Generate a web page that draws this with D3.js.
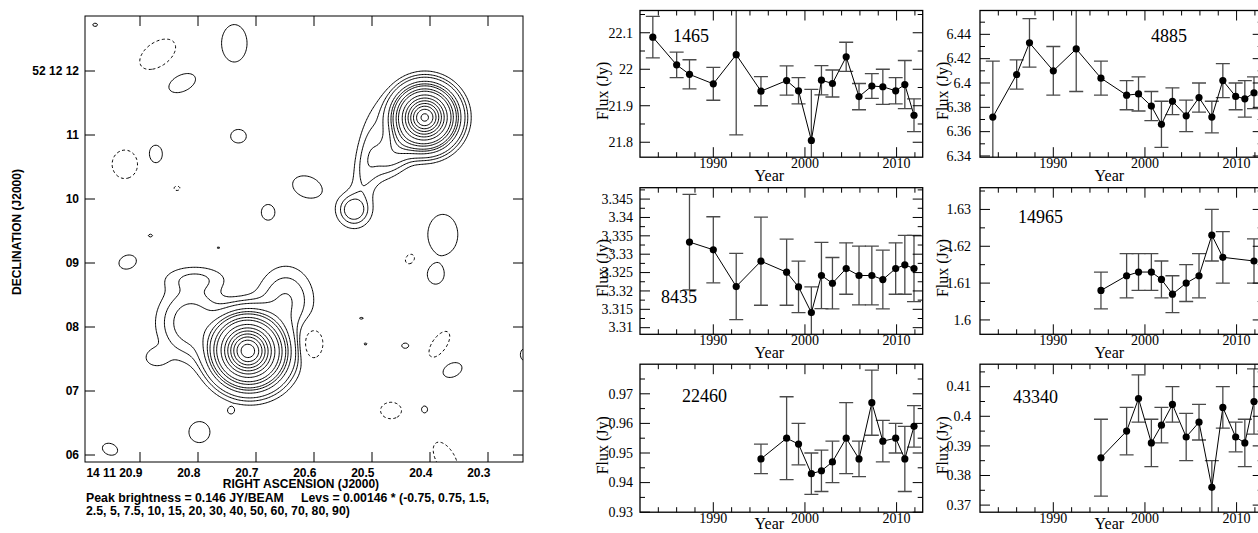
<!DOCTYPE html>
<html><head><meta charset="utf-8">
<script src="https://cdn.jsdelivr.net/npm/d3@7"></script>
<style>
body{margin:0;background:#fff;}
svg{display:block;background:#fff;}
</style></head><body>
<svg id="chart" width="1258" height="533"></svg>
<script>
// ================= MAP DATA =================
const raTicks = [20.9, 20.8, 20.7, 20.6, 20.5, 20.4, 20.3];
const raTickLabels = ["14 11 20.9", "20.8", "20.7", "20.6", "20.5", "20.4", "20.3"];
const decTicks = [12, 11, 10, 9, 8, 7, 6];
const decTickLabels = ["52 12 12", "11", "10", "09", "08", "07", "06"];
const peakJy = 0.146;
const levelFactors = [-0.75, 0.75, 1.5, 2.5, 5, 7.5, 10, 15, 20, 30, 40, 50, 60, 70, 80, 90];
// emission components: amplitude in percent of peak, widths (sigma) in arcsec, PA in degrees
const srcRA  = [20.7167, 20.6966, 20.8138, 20.8052, 20.6500, 20.8741,
                20.4101, 20.4552, 20.5069, 20.5328, 20.5328,
                20.7387, 20.8286, 20.7315, 20.8744, 20.6131, 20.6804, 20.8833, 20.7661, 20.9226, 20.3792,
                20.3917, 20.3625, 20.4107, 20.4440, 20.5125, 20.5196, 20.7988, 20.9530, 20.7446, 20.9786, 20.2393,
                20.8708, 20.9274, 20.8375, 20.4357, 20.6054, 20.3851, 20.4685, 20.3744];
const srcDec = [7.6446, 7.5469, 8.0781, 8.7656, 8.4219, 7.5313,
                11.2875, 10.8438, 10.7344, 9.8438, 9.8438,
                12.4446, 11.8232, 10.9929, 10.7143, 10.2000, 9.8036, 9.4393, 9.2518, 9.0268, 9.4554,
                8.8232, 7.3393, 6.7232, 7.7196, 7.7464, 8.1482, 6.3697, 6.1018, 6.7018, 12.7340, 7.5804,
                12.2732, 10.5536, 10.1786, 9.0750, 7.7625, 7.7411, 6.7071, 5.9500];
const srcAmp = [90, 9, 3.6, 1.4, 2.6, 1.2,
                92, 4.5, 1.9, 3.0, 1.5,
                1.5, 1.5, 1.4, 1.4, 1.5, 1.4, 1.0, 0.95, 1.4, 1.5,
                1.4, 1.4, 1.1, 1.1, 0.95, 0.95, 1.5, 1.4, 1.1, 1.0, 1.4,
                -1.5, -1.5, -1.1, -1.3, -1.8, -1.5, -1.5, -1.5];
const srcMaj = [0.27, 0.28, 0.313, 0.344, 0.28, 0.14,
                0.235, 0.34, 0.47, 0.11, 0.22,
                0.17, 0.19, 0.11, 0.095, 0.20, 0.095, 0.045, 0.035, 0.125, 0.20,
                0.11, 0.14, 0.055, 0.063, 0.035, 0.045, 0.14, 0.11, 0.05, 0.05, 0.05,
                0.27, 0.17, 0.055, 0.08, 0.14, 0.20, 0.14, 0.125];
const srcMin = [0.27, 0.28, 0.344, 0.14, 0.344, 0.11,
                0.235, 0.17, 0.135, 0.11, 0.22,
                0.25, 0.11, 0.095, 0.125, 0.14, 0.11, 0.03, 0.02, 0.095, 0.27,
                0.125, 0.095, 0.063, 0.047, 0.028, 0.025, 0.14, 0.08, 0.05, 0.035, 0.08,
                0.16, 0.19, 0.04, 0.063, 0.20, 0.095, 0.11, 0.25];
const srcPA  = [0, 0, 0, 0, 0, 0,
                0, -50, -80, 0, 0,
                0, -25, 0, 0, 20, 0, 0, 0, -20, 0,
                0, -25, 0, 0, 0, 0, 0, 20, 0, 0, 0,
                -35, 0, 0, -50, 0, -55, 0, -30];

// ================= LIGHT-CURVE DATA =================
const yearDomain = [1982, 2012.85];
const yearMajor = [1990, 2000, 2010];

const p1Year = [1983.4, 1986.0, 1987.4, 1990.0, 1992.5, 1995.2, 1998.0, 1999.3, 2000.7, 2001.8, 2003.0, 2004.5, 2005.9, 2007.3, 2008.5, 2009.9, 2010.9, 2011.9];
const p1Flux = [22.088, 22.012, 21.986, 21.960, 22.040, 21.940, 21.969, 21.941, 21.805, 21.970, 21.961, 22.034, 21.925, 21.954, 21.952, 21.941, 21.958, 21.874];
const p1Err  = [0.057, 0.035, 0.040, 0.045, 0.220, 0.040, 0.040, 0.036, 0.140, 0.040, 0.037, 0.040, 0.036, 0.034, 0.048, 0.036, 0.066, 0.045];
const p1Ticks = [21.8, 21.9, 22.0, 22.1];
const p1Labels = ["21.8", "21.9", "22", "22.1"];
const p1Dom = [21.759, 22.161];

const p2Year = [1983.4, 1986.0, 1987.4, 1990.0, 1992.5, 1995.2, 1998.0, 1999.3, 2000.7, 2001.8, 2003.0, 2004.5, 2005.9, 2007.3, 2008.5, 2009.9, 2010.9, 2011.9];
const p2Flux = [6.372, 6.407, 6.433, 6.410, 6.428, 6.404, 6.390, 6.391, 6.381, 6.366, 6.385, 6.373, 6.388, 6.372, 6.402, 6.389, 6.387, 6.392];
const p2Err  = [0.046, 0.012, 0.020, 0.020, 0.035, 0.014, 0.012, 0.014, 0.012, 0.019, 0.011, 0.013, 0.012, 0.013, 0.014, 0.011, 0.015, 0.013];
const p2Ticks = [6.34, 6.36, 6.38, 6.40, 6.42, 6.44];
const p2Labels = ["6.34", "6.36", "6.38", "6.4", "6.42", "6.44"];
const p2Dom = [6.339, 6.4596];

const p3Year = [1987.4, 1990.0, 1992.5, 1995.2, 1998.0, 1999.3, 2000.7, 2001.8, 2003.0, 2004.5, 2005.9, 2007.3, 2008.5, 2009.9, 2010.9, 2011.9];
const p3Flux = [3.3333, 3.3312, 3.3212, 3.3281, 3.3251, 3.3211, 3.3141, 3.3242, 3.3221, 3.3261, 3.3242, 3.3242, 3.3231, 3.3261, 3.3271, 3.3261];
const p3Err  = [0.013, 0.009, 0.009, 0.012, 0.009, 0.007, 0.007, 0.009, 0.007, 0.007, 0.008, 0.008, 0.008, 0.007, 0.008, 0.009];
const p3Ticks = [3.31, 3.315, 3.32, 3.325, 3.33, 3.335, 3.34, 3.345];
const p3Labels = ["3.31", "3.315", "3.32", "3.325", "3.33", "3.335", "3.34", "3.345"];
const p3Dom = [3.3082, 3.3481];

const p4Year = [1995.2, 1998.0, 1999.3, 2000.7, 2001.8, 2003.0, 2004.5, 2005.9, 2007.3, 2008.5, 2011.9];
const p4Flux = [1.608, 1.612, 1.613, 1.613, 1.611, 1.607, 1.610, 1.612, 1.623, 1.617, 1.616];
const p4Err  = [0.005, 0.006, 0.005, 0.005, 0.005, 0.005, 0.005, 0.006, 0.007, 0.007, 0.006];
const p4Ticks = [1.60, 1.61, 1.62, 1.63];
const p4Labels = ["1.6", "1.61", "1.62", "1.63"];
const p4Dom = [1.5961, 1.6359];

const p5Year = [1995.2, 1998.0, 1999.3, 2000.7, 2001.8, 2003.0, 2004.5, 2005.9, 2007.3, 2008.5, 2009.9, 2010.9, 2011.9];
const p5Flux = [0.948, 0.955, 0.953, 0.943, 0.944, 0.947, 0.955, 0.948, 0.967, 0.954, 0.955, 0.948, 0.959];
const p5Err  = [0.005, 0.014, 0.007, 0.007, 0.007, 0.007, 0.012, 0.006, 0.011, 0.007, 0.005, 0.011, 0.007];
const p5Ticks = [0.93, 0.94, 0.95, 0.96, 0.97];
const p5Labels = ["0.93", "0.94", "0.95", "0.96", "0.97"];
const p5Dom = [0.93, 0.98];

const p6Year = [1995.2, 1998.0, 1999.3, 2000.7, 2001.8, 2003.0, 2004.5, 2005.9, 2007.3, 2008.5, 2009.9, 2010.9, 2011.9];
const p6Flux = [0.386, 0.395, 0.406, 0.391, 0.397, 0.404, 0.393, 0.398, 0.376, 0.403, 0.393, 0.391, 0.405];
const p6Err  = [0.013, 0.008, 0.008, 0.008, 0.006, 0.006, 0.008, 0.006, 0.009, 0.007, 0.005, 0.008, 0.011];
const p6Ticks = [0.37, 0.38, 0.39, 0.40, 0.41];
const p6Labels = ["0.37", "0.38", "0.39", "0.4", "0.41"];
const p6Dom = [0.3676, 0.4176];

const panelNames = ["1465", "4885", "8435", "14965", "22460", "43340"];

// ================= DRAWING =================
const svg = d3.select("#chart");
const defs = svg.append("defs");
const sans = "'Liberation Sans', Arial, Helvetica, sans-serif";
const serif = "'Liberation Serif', 'Times New Roman', Times, serif";

// ---------- Contour map ----------
const mapL = 85, mapR = 523, mapT = 16, mapB = 462;
const xMap = d3.scaleLinear().domain([20.9, 20.3]).range([140, 488]);
const yMap = d3.scaleLinear().domain([12, 6]).range([71, 455]);

defs.append("clipPath").attr("id", "mapClip").append("rect")
  .attr("x", mapL).attr("y", mapT).attr("width", mapR - mapL).attr("height", mapB - mapT);

const cosd = Math.cos(52.2 * Math.PI / 180);
const pxArcX = Math.abs(xMap(0) - xMap(1 / (15 * cosd)));
const pxArcY = Math.abs(yMap(0) - yMap(1));
const pxArc = (pxArcX + pxArcY) / 2;

const comps = srcRA.map((ra, i) => {
  const t = srcPA[i] * Math.PI / 180;
  return { x: xMap(ra), y: yMap(srcDec[i]), a: srcAmp[i],
           sa: srcMaj[i] * pxArc, sb: srcMin[i] * pxArc, c: Math.cos(t), s: Math.sin(t) };
});

const step = 1.5, pad = 12;
const gx0 = mapL - pad, gy0 = mapT - pad;
const nx = Math.ceil((mapR - mapL + 2 * pad) / step) + 1;
const ny = Math.ceil((mapB - mapT + 2 * pad) / step) + 1;
const values = new Float64Array(nx * ny);
for (let j = 0; j < ny; j++) {
  const py = gy0 + j * step;
  for (let i = 0; i < nx; i++) {
    const px = gx0 + i * step;
    let v = 0;
    for (const c of comps) {
      const dx = px - c.x, dy = py - c.y;
      const lim = 6 * Math.max(c.sa, c.sb);
      if (Math.abs(dx) > lim || Math.abs(dy) > lim) continue;
      const u = dx * c.c + dy * c.s, w = -dx * c.s + dy * c.c;
      v += c.a * Math.exp(-0.5 * (u * u / (c.sa * c.sa) + w * w / (c.sb * c.sb)));
    }
    values[j * nx + i] = v * peakJy / 100;
  }
}
const levels = levelFactors.map(f => f * peakJy / 100);
const contours = d3.contours().size([nx, ny]).thresholds(levels)(values);
const cpath = d3.geoPath(d3.geoIdentity().scale(step).translate([gx0, gy0]));

const gMap = svg.append("g");
gMap.append("g").attr("clip-path", "url(#mapClip)")
  .selectAll("path").data(contours).join("path")
  .attr("d", cpath)
  .attr("fill", "none")
  .attr("stroke", "#000")
  .attr("stroke-width", 1)
  .attr("stroke-linejoin", "round")
  .attr("stroke-dasharray", d => d.value < 0 ? "3,2.5" : null);

gMap.append("rect").attr("x", mapL).attr("y", mapT)
  .attr("width", mapR - mapL).attr("height", mapB - mapT)
  .attr("fill", "none").attr("stroke", "#000").attr("stroke-width", 1);

const tickLen = 10;
raTicks.forEach((t, i) => {
  const x = xMap(t);
  gMap.append("line").attr("x1", x).attr("x2", x).attr("y1", mapB).attr("y2", mapB - tickLen).attr("stroke", "#000");
  gMap.append("line").attr("x1", x).attr("x2", x).attr("y1", mapT).attr("y2", mapT + tickLen).attr("stroke", "#000");
  gMap.append("text").attr("x", x + 2.5).attr("y", mapB + 14.5)
    .attr("text-anchor", "end").attr("font-family", sans).attr("font-weight", "bold")
    .attr("font-size", 12).text(raTickLabels[i]);
});
decTicks.forEach((t, i) => {
  const y = yMap(t);
  gMap.append("line").attr("x1", mapL).attr("x2", mapL + tickLen).attr("y1", y).attr("y2", y).attr("stroke", "#000");
  gMap.append("line").attr("x1", mapR).attr("x2", mapR - tickLen).attr("y1", y).attr("y2", y).attr("stroke", "#000");
  gMap.append("text").attr("x", mapL - 6).attr("y", y).attr("dy", "0.36em")
    .attr("text-anchor", "end").attr("font-family", sans).attr("font-weight", "bold")
    .attr("font-size", 12).text(decTickLabels[i]);
});
gMap.append("text").attr("x", 301).attr("y", 488).attr("text-anchor", "middle")
  .attr("font-family", sans).attr("font-weight", "bold").attr("font-size", 12)
  .text("RIGHT ASCENSION (J2000)");
gMap.append("text").attr("transform", "translate(21,232) rotate(-90)").attr("text-anchor", "middle")
  .attr("font-family", sans).attr("font-weight", "bold").attr("font-size", 12)
  .text("DECLINATION (J2000)");
const levParts = levelFactors.map(f => String(f));
const firstN = 3;
gMap.append("text").attr("x", 86).attr("y", 501.5)
  .attr("font-family", sans).attr("font-weight", "bold").attr("font-size", 12.3)
  .style("white-space", "pre")
  .text("Peak brightness = " + peakJy + " JY/BEAM     Levs = " + (peakJy / 100).toFixed(5) +
        " * (" + levParts.slice(0, firstN).join(", ") + ",");
gMap.append("text").attr("x", 86).attr("y", 515)
  .attr("font-family", sans).attr("font-weight", "bold").attr("font-size", 12.3)
  .text(levParts.slice(firstN).join(", ") + ")");

// ---------- Light-curve panels ----------
const panels = [
  { year: p1Year, flux: p1Flux, err: p1Err, ticks: p1Ticks, labels: p1Labels, dom: p1Dom, col: 0, row: 0, lab: [673, 41.5] },
  { year: p2Year, flux: p2Flux, err: p2Err, ticks: p2Ticks, labels: p2Labels, dom: p2Dom, col: 1, row: 0, lab: [1151, 41.5] },
  { year: p3Year, flux: p3Flux, err: p3Err, ticks: p3Ticks, labels: p3Labels, dom: p3Dom, col: 0, row: 1, lab: [661, 302.5] },
  { year: p4Year, flux: p4Flux, err: p4Err, ticks: p4Ticks, labels: p4Labels, dom: p4Dom, col: 1, row: 1, lab: [1018, 223] },
  { year: p5Year, flux: p5Flux, err: p5Err, ticks: p5Ticks, labels: p5Labels, dom: p5Dom, col: 0, row: 2, lab: [682, 402] },
  { year: p6Year, flux: p6Flux, err: p6Err, ticks: p6Ticks, labels: p6Labels, dom: p6Dom, col: 1, row: 2, lab: [1013, 403] }
];
const colX = [640, 980], panelW = 282.7, labGap = [7, 9];
const rowY = [[10.5, 157.2], [187.7, 334.3], [364.2, 512.2]];
const yearTitleOff = [24, 24, 16.5];
const majLen = 10, minLen = 5;
const yearMinor = d3.range(yearDomain[0], yearDomain[1], 2).filter(v => !yearMajor.includes(v));

panels.forEach((p, k) => {
  const L = colX[p.col], R = L + panelW, T = rowY[p.row][0], B = rowY[p.row][1];
  const x = d3.scaleLinear().domain(yearDomain).range([L, R]);
  const y = d3.scaleLinear().domain(p.dom).range([B, T]);
  const g = svg.append("g");
  defs.append("clipPath").attr("id", "pc" + k).append("rect")
    .attr("x", L).attr("y", T).attr("width", R - L).attr("height", B - T);
  const gc = g.append("g").attr("clip-path", `url(#pc${k})`);

  // error bars
  p.year.forEach((yr, i) => {
    const cx = x(yr), y1 = y(p.flux[i] + p.err[i]), y2 = y(p.flux[i] - p.err[i]);
    gc.append("line").attr("x1", cx).attr("x2", cx).attr("y1", y1).attr("y2", y2)
      .attr("stroke", "#4a4a4a").attr("stroke-width", 1.3);
    [y1, y2].forEach(yy => gc.append("line").attr("x1", cx - 7).attr("x2", cx + 7)
      .attr("y1", yy).attr("y2", yy).attr("stroke", "#4a4a4a").attr("stroke-width", 1.3));
  });
  const line = d3.line().x((d, i) => x(p.year[i])).y(d => y(d));
  gc.append("path").attr("d", line(p.flux)).attr("fill", "none").attr("stroke", "#000").attr("stroke-width", 1);
  gc.selectAll("circle").data(p.flux).join("circle")
    .attr("cx", (d, i) => x(p.year[i])).attr("cy", d => y(d)).attr("r", 3.6).attr("fill", "#000");

  // frame
  g.append("rect").attr("x", L).attr("y", T).attr("width", R - L).attr("height", B - T)
    .attr("fill", "none").attr("stroke", "#000").attr("stroke-width", 1.3);

  // x ticks
  yearMajor.forEach(v => {
    const xx = x(v);
    g.append("line").attr("x1", xx).attr("x2", xx).attr("y1", B).attr("y2", B - majLen).attr("stroke", "#000");
    g.append("line").attr("x1", xx).attr("x2", xx).attr("y1", T).attr("y2", T + majLen).attr("stroke", "#000");
    g.append("text").attr("x", xx).attr("y", B + 11).attr("text-anchor", "middle")
      .attr("font-family", serif).attr("font-size", 14).text(String(v));
  });
  yearMinor.forEach(v => {
    const xx = x(v);
    if (xx <= L + 1 || xx >= R - 1) return;
    g.append("line").attr("x1", xx).attr("x2", xx).attr("y1", B).attr("y2", B - minLen).attr("stroke", "#000");
    g.append("line").attr("x1", xx).attr("x2", xx).attr("y1", T).attr("y2", T + minLen).attr("stroke", "#000");
  });
  // y ticks
  const stepY = p.ticks[1] - p.ticks[0];
  p.ticks.forEach((v, i) => {
    const yy = y(v);
    g.append("line").attr("x1", L).attr("x2", L + majLen).attr("y1", yy).attr("y2", yy).attr("stroke", "#000");
    g.append("line").attr("x1", R).attr("x2", R - majLen).attr("y1", yy).attr("y2", yy).attr("stroke", "#000");
    g.append("text").attr("x", L - labGap[p.col]).attr("y", yy).attr("dy", "0.34em").attr("text-anchor", "end")
      .attr("font-family", serif).attr("font-size", 14).text(p.labels[i]);
  });
  d3.range(-4, p.ticks.length + 4).forEach(q => {
    const v = p.ticks[0] + (q + 0.5) * stepY;
    if (v <= p.dom[0] || v >= p.dom[1]) return;
    const yy = y(v);
    g.append("line").attr("x1", L).attr("x2", L + minLen).attr("y1", yy).attr("y2", yy).attr("stroke", "#000");
    g.append("line").attr("x1", R).attr("x2", R - minLen).attr("y1", yy).attr("y2", yy).attr("stroke", "#000");
  });
  // titles
  g.append("text").attr("x", (L + R) / 2 - 12).attr("y", B + yearTitleOff[p.row]).attr("text-anchor", "middle")
    .attr("font-family", serif).attr("font-size", 16).text("Year");
  g.append("text").attr("transform", `translate(${L - 32},${(T + B) / 2 + 7}) rotate(-90)`)
    .attr("text-anchor", "middle").attr("font-family", serif).attr("font-size", 16).text("Flux (Jy)");
  g.append("text").attr("x", p.lab[0]).attr("y", p.lab[1])
    .attr("font-family", serif).attr("font-size", 18).text(panelNames[k]);
});
</script>
</body></html>
